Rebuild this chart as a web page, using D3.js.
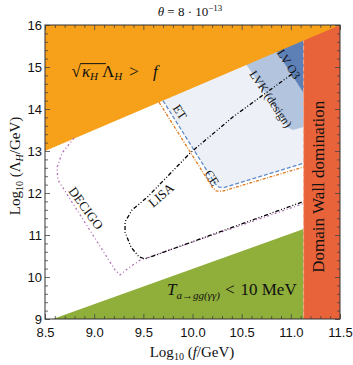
<!DOCTYPE html>
<html>
<head>
<meta charset="utf-8">
<script src="https://cdn.jsdelivr.net/npm/d3@7"></script>
<style>
  body { margin: 0; background: #fff; }
  svg { display: block; }
</style>
</head>
<body>
<svg id="chart" width="353" height="365"></svg>
<script>
// boundaries, points are [log10 f, log10 Lambda_H]
var upperEdge = [[8.5, 13.0], [11.5, 16.0]];            // sqrt(kappa_H) Lambda_H > f
var bbnEdge   = [[8.58, 9.0], [11.13, 11.14]];          // T_{a->gg} < 10 MeV
var wallF     = 11.13;                                  // domain wall domination beyond this

var etLine  = [[9.70, 14.20], [10.23, 12.22], [10.27, 12.14], [10.32, 12.13], [11.13, 12.71]];
var ceLine  = [[9.66, 14.16], [10.20, 12.14], [10.24, 12.05], [10.30, 12.04], [11.13, 12.62]];
var lvkEdge = [[10.55, 15.05], [10.98, 13.55], [11.02, 13.50], [11.13, 13.57]];
var o3Edge  = [[10.86, 15.36], [11.13, 14.38]];

var lisaLine = [[11.01, 14.83], [10.41, 13.81], [9.975, 12.95], [9.54, 11.90], [9.385, 11.595],
                [9.314, 11.31], [9.314, 11.07], [9.375, 10.71], [9.456, 10.48], [9.517, 10.43],
                [11.12, 11.79]];
var decigoLine = [[8.795, 13.31], [8.673, 12.95], [8.622, 12.60], [8.632, 12.31], [9.212, 10.17],
                  [9.263, 10.05], [9.364, 10.24], [9.466, 10.40], [11.12, 11.74]];

var xMajor = [8.5, 9.0, 9.5, 10.0, 10.5, 11.0, 11.5];
var yMajor = [9, 10, 11, 12, 13, 14, 15, 16];

var svg = d3.select("#chart"),
    margin = {top: 25, right: 13, bottom: 46, left: 45},
    width = +svg.attr("width") - margin.left - margin.right,
    height = +svg.attr("height") - margin.top - margin.bottom,
    g = svg.append("g").attr("transform", "translate(" + margin.left + "," + margin.top + ")");

var x = d3.scaleLinear().domain([8.5, 11.5]).range([0, width]);
var y = d3.scaleLinear().domain([9, 16]).range([height, 0]);
var line = d3.line().x(function(d) { return x(d[0]); }).y(function(d) { return y(d[1]); });

svg.append("defs").append("clipPath").attr("id", "plot")
  .append("rect").attr("width", width).attr("height", height);
var plot = g.append("g").attr("clip-path", "url(#plot)");

// shaded sensitivity regions (the parts above the orange edge get covered)
var lamTop = 16.5;
function upTo(edge) {
  return edge.concat([[wallF, lamTop], [edge[0][0] - 0.3, lamTop]]);
}
plot.append("path").attr("fill", "#edf1f7").attr("d", line(upTo(etLine)));
plot.append("path").attr("fill", "#b3c4de").attr("d", line(upTo(lvkEdge)));
plot.append("path").attr("fill", "#5d80b7").attr("d", line(upTo(o3Edge)));

// excluded regions
plot.append("path").attr("fill", "#8fae3a")
  .attr("d", line(bbnEdge.concat([[wallF, 9]])));
plot.append("rect").attr("fill", "#e9633a")
  .attr("x", x(wallF)).attr("y", 0)
  .attr("width", width - x(wallF)).attr("height", height);
plot.append("line")
  .attr("x1", x(wallF)).attr("x2", x(wallF)).attr("y1", 0).attr("y2", height)
  .attr("stroke", "#f5a98e").attr("stroke-width", 1).attr("stroke-dasharray", "4,3");
plot.append("path").attr("fill", "#f7a11a")
  .attr("d", line(upperEdge.concat([[8.5, 16]])));

// detector curves
plot.append("path").attr("d", line(ceLine)).attr("fill", "none")
  .attr("stroke", "#e07a1f").attr("stroke-width", 1.3).attr("stroke-dasharray", "3,1.5,1,1.5");
plot.append("path").attr("d", line(etLine)).attr("fill", "none")
  .attr("stroke", "#5f8bc9").attr("stroke-width", 1.3).attr("stroke-dasharray", "4,2");
plot.append("path").attr("d", line(decigoLine)).attr("fill", "none")
  .attr("stroke", "#b06fb6").attr("stroke-width", 1.3).attr("stroke-dasharray", "2,2.5,1,2.5");
plot.append("path").attr("d", line(lisaLine)).attr("fill", "none")
  .attr("stroke", "#000").attr("stroke-width", 1.3).attr("stroke-dasharray", "4,2,1,2,1,2");

// frame and ticks on all four sides
var minorX = d3.range(85, 116).map(function(v) { return v / 10; })
  .filter(function(v) { return xMajor.indexOf(v) < 0; });
var minorY = d3.range(45, 81).map(function(v) { return v / 5; })
  .filter(function(v) { return yMajor.indexOf(v) < 0; });

function ticks(axis, vals, size, fmt) {
  return axis.tickValues(vals).tickSize(size).tickFormat(fmt || "");
}
var axes = [
  [d3.axisBottom, "translate(0," + height + ")", x, xMajor, minorX, d3.format(".1f")],
  [d3.axisTop, null, x, xMajor, minorX, null],
  [d3.axisLeft, null, y, yMajor, minorY, d3.format("d")],
  [d3.axisRight, "translate(" + width + ",0)", y, yMajor, minorY, null]
];
axes.forEach(function(a, i) {
  var maj = g.append("g").attr("transform", a[1])
    .call(ticks(a[0](a[2]), a[3], -5, a[5]).tickPadding(i === 0 ? 9 : 3));
  var min = g.append("g").attr("transform", a[1])
    .call(ticks(a[0](a[2]), a[4], -3, null));
  [maj, min].forEach(function(s) {
    s.select(".domain").remove();
    s.selectAll("line").attr("stroke", "#444").attr("stroke-width", 0.8);
  });
  if (a[5]) {
    maj.selectAll("text").attr("font-family", "'Liberation Sans', Arial, sans-serif")
      .attr("font-size", 13).attr("fill", "#111");
  } else {
    maj.selectAll("text").remove();
  }
  min.selectAll("text").remove();
});

g.append("rect").attr("width", width).attr("height", height)
  .attr("fill", "none").attr("stroke", "#333").attr("stroke-width", 1);

// text
var serif = "'Liberation Serif', 'Times New Roman', serif";

svg.append("text").attr("x", 190).attr("y", 16).attr("text-anchor", "middle")
  .attr("font-family", serif).attr("font-size", 13).attr("fill", "#111")
  .call(function(t) {
    t.append("tspan").attr("font-style", "italic").text("θ");
    t.append("tspan").text(" = 8 · 10");
    t.append("tspan").attr("dy", -5).attr("font-size", 9).text("−13");
  });

svg.append("text").attr("x", 192).attr("y", 357).attr("text-anchor", "middle")
  .attr("font-family", serif).attr("font-size", 15).attr("fill", "#111")
  .call(function(t) {
    t.append("tspan").text("Log");
    t.append("tspan").attr("dy", 3).attr("font-size", 10).text("10");
    t.append("tspan").attr("dy", -3).text(" (");
    t.append("tspan").attr("font-style", "italic").text("f");
    t.append("tspan").text("/GeV)");
  });

svg.append("text").attr("transform", "translate(20,166) rotate(-90)").attr("text-anchor", "middle")
  .attr("font-family", serif).attr("font-size", 15).attr("fill", "#111")
  .call(function(t) {
    t.append("tspan").text("Log");
    t.append("tspan").attr("dy", 3).attr("font-size", 10).text("10");
    t.append("tspan").attr("dy", -3).text(" (Λ");
    t.append("tspan").attr("dy", 3).attr("font-size", 10).attr("font-style", "italic").text("H");
    t.append("tspan").attr("dy", -3).text("/GeV)");
  });

// sqrt(kappa_H) Lambda_H > f
var s = g.append("text").attr("x", x(8.77)).attr("y", y(14.76))
  .attr("font-family", serif).attr("font-size", 17).attr("fill", "#111");
s.append("tspan").text("√");
s.append("tspan").attr("dx", 1).attr("font-style", "italic").text("κ");
s.append("tspan").attr("dy", 3).attr("font-size", 11).attr("font-style", "italic").text("H");
s.append("tspan").attr("dy", -3).attr("dx", 4).text("Λ");
s.append("tspan").attr("dy", 3).attr("font-size", 11).attr("font-style", "italic").text("H");
s.append("tspan").attr("dy", -3).attr("dx", 7).text(">");
s.append("tspan").attr("dx", 14).attr("font-style", "italic").text("f");
g.append("line").attr("x1", x(8.86)).attr("x2", x(9.12)).attr("y1", y(15.08)).attr("y2", y(15.08))
  .attr("stroke", "#111").attr("stroke-width", 1);

// T_{a -> gg(gamma gamma)} < 10 MeV
var tl = g.append("text").attr("x", x(9.74)).attr("y", y(9.57))
  .attr("font-family", serif).attr("font-size", 17).attr("fill", "#111");
tl.append("tspan").attr("font-style", "italic").text("T");
tl.append("tspan").attr("dy", 4).attr("font-size", 11).attr("font-style", "italic").text("a→gg(γγ)");
tl.append("tspan").attr("dy", -4).attr("dx", 5).text("<");
tl.append("tspan").attr("dx", 6).text("10 MeV");

g.append("text").attr("transform", "translate(" + (x(wallF) + 20) + "," + y(12.15) + ") rotate(-90)")
  .attr("text-anchor", "middle").attr("font-family", serif).attr("font-size", 17)
  .attr("fill", "#111").text("Domain Wall domination");

function tag(txt, f, l, ang, size) {
  g.append("text")
    .attr("transform", "translate(" + x(f) + "," + y(l) + ") rotate(" + ang + ")")
    .attr("text-anchor", "middle").attr("dy", "0.35em")
    .attr("font-family", serif).attr("font-size", size).attr("fill", "#111").text(txt);
}
tag("ET", 9.873, 13.93, 57, 12.5);
tag("CE", 10.198, 12.36, 57, 12.5);
tag("LVK (design)", 10.798, 14.24, 56, 12);
tag("LV O3", 10.98, 15.07, 57, 12);
tag("LISA", 9.68, 11.95, -40, 13);
tag("DECIGO", 8.917, 11.64, 54, 13);
</script>
</body>
</html>
